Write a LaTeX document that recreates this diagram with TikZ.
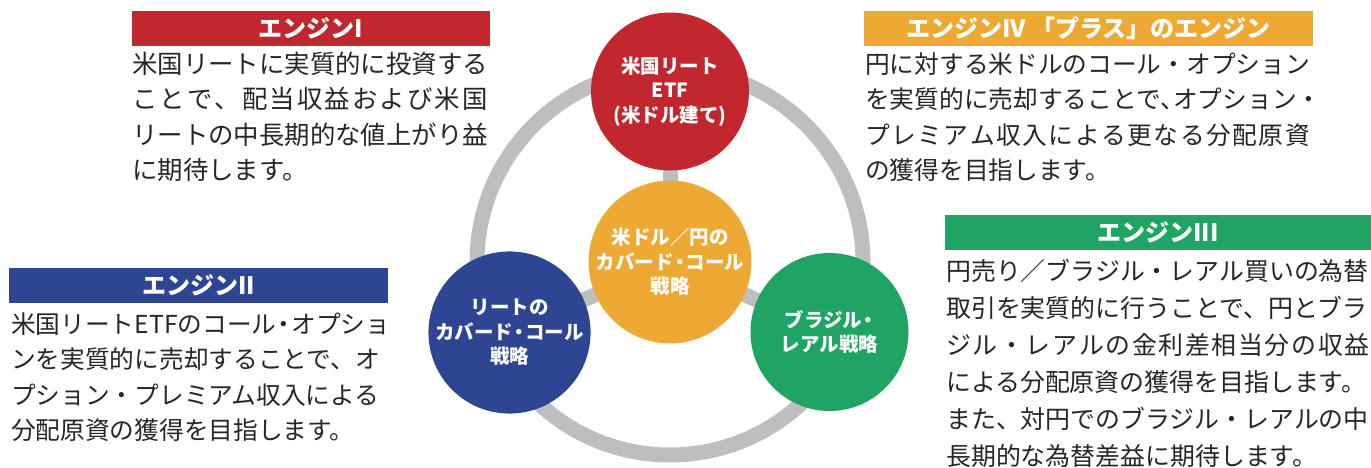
\documentclass[tikz,border=0pt]{standalone}
\usepackage{fontspec}
\setmainfont{Noto Sans CJK JP}
\usepackage{tikz}
\usetikzlibrary{backgrounds}

\definecolor{engred}{HTML}{C1272D}
\definecolor{engblue}{HTML}{2E4593}
\definecolor{enggreen}{HTML}{1FA463}
\definecolor{engorange}{HTML}{EDA933}
\definecolor{ringgray}{HTML}{BCBEC0}
\definecolor{bodytext}{HTML}{262626}

\makeatletter
\newcommand\jline[2]{\makebox[#1][s]{\@tfor\jc:=#2\do{\jc\hfil}\unskip}}
\makeatother
\newcommand\hdot{\makebox[.6em]{・}}

\begin{document}
\begin{tikzpicture}[x=1pt,y=-1pt,
    head/.style={fill=#1, text=white, font=\bfseries\fontsize{24}{28}\selectfont,
        minimum height=35pt, inner sep=0pt},
    desc/.style={anchor=base west, inner sep=0pt, align=left, text=bodytext},
    ball/.style={circle, fill=#1, minimum size=158pt, inner sep=0pt, text=white,
        align=center, font=\bfseries\fontsize{19.5}{24.5}\selectfont},
    band/.style={draw=ringgray, line width=15pt}]
    \useasboundingbox (0,0) rectangle (1371,468);

    % headers
    \node[head=engred, minimum width=358pt] (E1) at (311,28.5) {エンジンI};
    \node[head=engorange, minimum width=449pt] (E4) at (1088.5,28.5) {エンジンIV 「プラス」のエンジン};
    \node[head=engblue, minimum width=379pt] (E2) at (198.5,285.5) {エンジンII};
    \node[head=enggreen, minimum width=426pt] (E3) at (1158,232.5) {エンジンIII};

    % descriptions (base = last line)
    \node[desc, font=\fontsize{25.4}{35.5}\selectfont] (T1) at (132,179.5)
        {米国リートに実質的に投資する\\
         \jline{14em}{ことで、配当収益および米国}\\
         リートの中長期的な値上がり益\\
         に期待します。};
    \node[desc, font=\fontsize{24.7}{35.5}\selectfont] (T4) at (865,179.5)
        {円に対する米ドルのコール・オプション\\
         を実質的に売却することで\makebox[.5em][l]{、}オプション・\\
         \jline{18em}{プレミアム収入による更なる分配原資}\\
         の獲得を目指します。};
    \node[desc, font=\fontsize{24.7}{35.5}\selectfont] (T2) at (11,439.5)
        {米国リートETFのコール\hdot オプショ\\
         ンを実質的に売却することで、オ\\
         プション・プレミアム収入による\\
         分配原資の獲得を目指します。};
    \node[desc, font=\fontsize{24.9}{37}\selectfont] (T3) at (946,465.5)
        {円売り／ブラジル・レアル買いの為替\\
         取引を実質的に行うことで、円とブラ\\
         \jline{17em}{ジル・レアルの金利差相当分の収益}\\
         による分配原資の獲得を目指します。\\
         また、対円でのブラジル・レアルの中\\
         長期的な為替差益に期待します。};

    % circles
    \node[ball=engorange, minimum size=153pt] (FX) at (670,262) {米ドル／円の\\カバード\hdot コール\\戦略};
    \node[ball=engred] (US) at (670,91.5) {米国リート\\ETF\\(米ドル建て)};
    \node[ball=engblue] (RT) at (509.5,332.5) {リートの\\カバード\hdot コール\\戦略};
    \node[ball=enggreen] (BR) at (829.5,332) {ブラジル\hdot\\レアル戦略};

    \begin{scope}[on background layer]
        \draw[band] (FX.center) circle[radius=193pt];
        \draw[band] (FX.center) -- (US.center);
        \draw[band] (FX.center) -- (RT.center);
        \draw[band] (FX.center) -- (BR.center);
    \end{scope}
\end{tikzpicture}
\end{document}
